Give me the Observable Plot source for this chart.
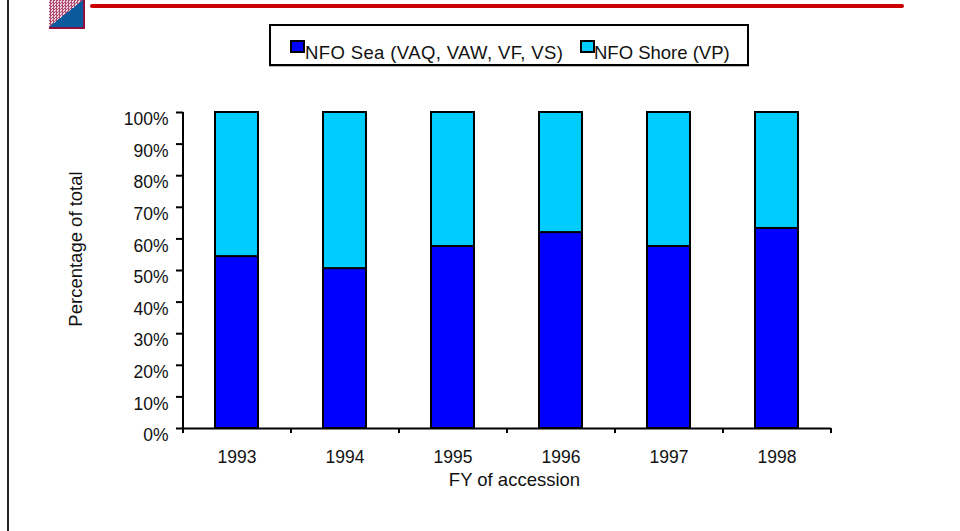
<!DOCTYPE html>
<html><head><meta charset="utf-8">
<script src="https://cdn.jsdelivr.net/npm/d3@7"></script>
<script src="https://cdn.jsdelivr.net/npm/@observablehq/plot@0.6"></script>
<style>
html,body{margin:0;padding:0;background:#fff;width:960px;height:531px;overflow:hidden}
#page{position:relative;width:960px;height:531px;font-family:"Liberation Sans",Arial,sans-serif;color:#111}
#chart{position:absolute;left:0;top:0}
#frame{position:absolute;left:7px;top:0;width:2px;height:531px;background:#222}
#rule{position:absolute;left:90px;top:4px;width:814px;height:4px;background:#cc0000;border-radius:2px}
#icon{position:absolute;left:49px;top:0;width:34px;height:27px;border-right:2px solid #8f0f3f;border-bottom:2px solid #8f0f3f;
background:linear-gradient(to bottom right,transparent 50%,#0a5a9c 50%),repeating-conic-gradient(#b04a70 0 25%,#ecd4dc 0 50%) 0 0/3px 3px}
#legend{position:absolute;left:269px;top:24px;width:476px;height:38px;border:2px solid #000;box-shadow:0 1px 0 #bbb}
.sw{position:absolute;top:14px;width:11px;height:9px;border:2px solid #000}
.lb{position:absolute;top:17px;font-size:18.5px;line-height:20px;white-space:nowrap}
</style></head>
<body>
<div id="page">
<div id="frame"></div><div id="rule"></div><div id="icon"></div>
<div id="chart"></div>
<div id="legend"></div>
</div>
<script>
const years = ["1993","1994","1995","1996","1997","1998"];
const seaShare = [54.4,50.6,57.6,62,57.6,63.3];
const seriesNames = ["NFO Sea (VAQ, VAW, VF, VS)","NFO Shore (VP)"];
const seriesColors = ["#0000ff","#00ccff"];
const yTicks = [0,10,20,30,40,50,60,70,80,90,100];

const rows = years.flatMap((year,i)=>[
  {year,series:seriesNames[0],value:seaShare[i]},
  {year,series:seriesNames[1],value:100-seaShare[i]}
]);

const line = {stroke:"#000",strokeWidth:2,strokeOpacity:1};
const plot = Plot.plot({
  width:960,height:531,
  marginLeft:183,marginRight:129,marginTop:112,marginBottom:103,
  style:{fontFamily:'"Liberation Sans",Arial,sans-serif',fontSize:"17.5px",color:"#111",background:"transparent"},
  x:{domain:years,paddingInner:0.6,paddingOuter:0.3,align:0.5},
  y:{domain:[0,100]},
  color:{domain:seriesNames,range:seriesColors},
  marks:[
    Plot.barY(rows,{x:"year",y:"value",fill:"series",order:seriesNames,...line}),
    Plot.axisY({ticks:yTicks,tickSize:0,tickPadding:15,dy:7,tickFormat:d=>d+"%",label:null}),
    Plot.axisY({ticks:yTicks,tickSize:7,tickFormat:()=>"",label:null,...line}),
    Plot.ruleX([years[0]],{dx:-54,...line}),
    Plot.ruleY([0],line),
    Plot.axisX({tickSize:0,tickPadding:22,label:null}),
    Plot.axisX({tickSize:5,dx:-54,tickFormat:()=>"",label:null,...line}),
    Plot.axisX({ticks:[years[5]],tickSize:5,dx:54,tickFormat:()=>"",label:null,...line}),
    Plot.text(["FY of accession"],{frameAnchor:"bottom",dx:7,dy:57,fontSize:18.5,fill:"#111",textAnchor:"middle"}),
    Plot.text(["Percentage of total"],{frameAnchor:"left",dx:-107,dy:-21.5,rotate:-90,fontSize:18.5,fill:"#111",textAnchor:"middle"})
  ]
});
document.getElementById("chart").appendChild(plot);

const lg = document.getElementById("legend");
const swX=[19,309], lbX=[34,323], ls=[0.38,0];
seriesNames.forEach((n,i)=>{
  lg.insertAdjacentHTML("beforeend",`<div class="sw" style="left:${swX[i]}px;background:${seriesColors[i]}"></div><div class="lb" style="left:${lbX[i]}px;letter-spacing:${ls[i]}px">${n}</div>`);
});
</script>
</body></html>
